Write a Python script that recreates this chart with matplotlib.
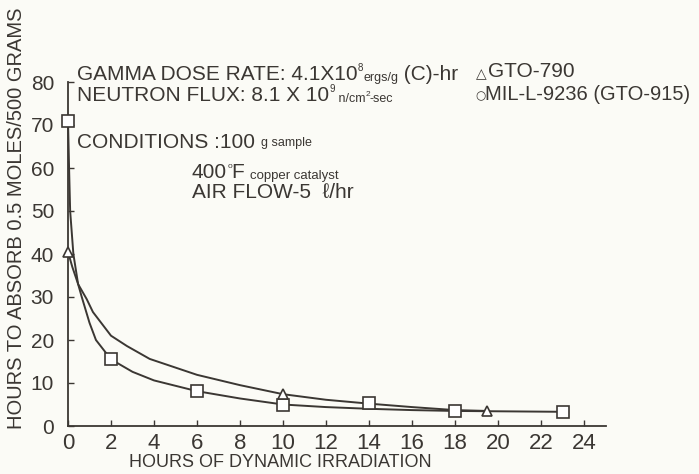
import matplotlib
matplotlib.use("Agg")
import matplotlib.pyplot as plt

# data
x_square = [0, 2, 6, 10, 14, 18, 23]
y_square = [71, 15.5, 8.1, 5.0, 5.3, 3.5, 3.3]
x_triangle = [0, 10, 19.5]
y_triangle = [40.5, 7.4, 3.5]

# hand drawn fit curves
x_square_curve = [0, 0.05, 0.1, 0.25, 0.47, 0.64, 1.0, 1.3, 2, 3, 4, 6, 8, 10, 12, 14, 16, 18, 23]
y_square_curve = [71, 60, 50, 40, 33, 30, 24, 20, 15.5, 12.6, 10.6, 8.1, 6.4, 5.0, 4.4, 4.0, 3.7, 3.5, 3.3]
x_triangle_curve = [0, 0.2, 0.47, 0.87, 1.16, 2, 2.74, 3.8, 6, 8, 10, 12, 14, 16, 18, 19.5]
y_triangle_curve = [40.5, 37, 33, 29.5, 26.5, 21, 18.6, 15.6, 11.9, 9.5, 7.4, 6.1, 5.2, 4.4, 3.7, 3.5]

x_ticks = list(range(0, 25, 2))
y_ticks = list(range(0, 81, 10))

INK = '#3b3733'
BG = '#fbfbf6'
W, H = 699, 474

plt.rcParams['font.family'] = ['Liberation Sans', 'DejaVu Sans']
plt.rcParams['text.color'] = INK

fig = plt.figure(figsize=(W / 100, H / 100), dpi=100, facecolor=BG)
ax = fig.add_axes([68 / W, 1 - 426 / H, (605.5 - 68) / W, 344 / H])
ax.set_facecolor(BG)

ax.plot(x_square_curve, y_square_curve, color=INK, lw=1.4, clip_on=False)
ax.plot(x_triangle_curve, y_triangle_curve, color=INK, lw=1.4, clip_on=False)
ax.plot(x_square, y_square, ls='none', marker='s', ms=8, mfc='white', mec=INK, mew=1.2, clip_on=False, zorder=3)
ax.plot(x_triangle, y_triangle, ls='none', marker='^', ms=7, mfc='white', mec=INK, mew=1.2, clip_on=False, zorder=3)

ax.set_xlim(0, 25)
ax.set_ylim(0, 80)
ax.set_xticks(x_ticks)
ax.set_yticks(y_ticks)
ax.tick_params(direction='in', length=4, width=1, color=INK, labelcolor=INK, labelsize=15)
ax.tick_params(axis='y', pad=10)
ax.tick_params(axis='x', pad=5, labelsize=16)
for side in ['top', 'right']:
    ax.spines[side].set_visible(False)
for side in ['left', 'bottom']:
    ax.spines[side].set_color(INK)
    ax.spines[side].set_linewidth(1.3)

ax.set_xlabel('HOURS OF DYNAMIC IRRADIATION', fontsize=13, color=INK)
ax.xaxis.set_label_coords((280 - 68) / 537.5, (426 - 454) / 344)
ax.set_ylabel('HOURS TO ABSORB 0.5 MOLES/500 GRAMS', fontsize=14.5, color=INK)
ax.yaxis.set_label_coords((26 - 68) / 537.5, (426 - 218) / 344)


def run(pieces, x_px, y_px):
    """Write text pieces one after another; pieces are (text, size, rise in points)."""
    s, size, rise = pieces[0]
    t = fig.text(x_px / W, 1 - y_px / H, s, fontsize=size, va='baseline', ha='left', color=INK)
    prev = rise
    for s, size, rise in pieces[1:]:
        t = ax.annotate(s, xy=(1, 0), xycoords=t, xytext=(0, rise - prev),
                        textcoords='offset points', fontsize=size, va='bottom',
                        ha='left', color=INK, annotation_clip=False)
        prev = rise


run([('GAMMA DOSE RATE: 4.1X10', 15, 0), ('8', 7, 8), ('ergs/g', 9, 0), (' (C)-hr', 15, 0)], 77, 80)
run([('NEUTRON FLUX: 8.1 X 10', 15, 0), ('9', 7, 8), (' n/cm', 9, 0), ('2', 6, 5), ('-sec', 9, 0)], 77, 101)

# legend symbols are drawn as glyphs, as in the original lettering
tri = fig.text(476 / W, 1 - 78 / H, '\u25b3', fontsize=10, family='DejaVu Sans', va='baseline', color=INK)
ax.annotate('GTO-790', xy=(1, 0), xycoords=tri, xytext=(1, 0), textcoords='offset points',
            fontsize=15, va='bottom', color=INK, annotation_clip=False)
circ = fig.text(475 / W, 1 - 99 / H, '\u25cb', fontsize=8.5, family='DejaVu Sans', va='baseline', color=INK)
ax.annotate('MIL-L-9236 (GTO-915)', xy=(1, 0), xycoords=circ, xytext=(0, -1.5), textcoords='offset points',
            fontsize=14.5, va='bottom', color=INK, annotation_clip=False)

run([('CONDITIONS :100 ', 15, 0), ('g sample', 9, 2)], 77, 148)
run([('400', 15, 0), ('o', 6, 9), ('F ', 15, 0), ('copper catalyst', 9.5, 0)], 192, 178)
run([('AIR FLOW-5  \u2113/hr', 15, 0)], 192, 198)

fig.savefig('out.png', dpi=100, facecolor=BG)
